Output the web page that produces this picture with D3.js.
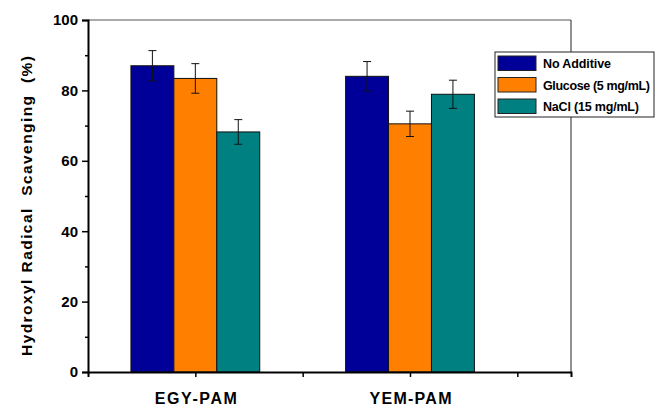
<!DOCTYPE html>
<html>
<head>
<meta charset="utf-8">
<script src="https://cdn.jsdelivr.net/npm/d3@7"></script>
<style>
  body { margin: 0; background: #fff; }
  text { font-family: Arial, "Liberation Sans", sans-serif; font-weight: bold; }
</style>
</head>
<body>
<svg id="chart"></svg>
<script>
// data
var groups = ["EGY-PAM", "YEM-PAM"]
var groupPos = [1, 3]
var series = ["No Additive", "Glucose (5 mg/mL)", "NaCl (15 mg/mL)"]
var colors = ["#000099", "#ff8000", "#008080"]
var noAdditive = [87.0, 84.0]
var glucose = [83.4, 70.5]
var nacl = [68.2, 78.9]
var errNoAdditive = [4.3, 4.2]
var errGlucose = [4.2, 3.6]
var errNacl = [3.5, 4.0]
var yTicks = [0, 20, 40, 60, 80, 100]

var values = [noAdditive, glucose, nacl]
var errors = [errNoAdditive, errGlucose, errNacl]

let svgWidth = 656
let svgHeight = 410
let margin = {top: 20, right: 85, bottom: 38, left: 88}
let width = svgWidth - margin.left - margin.right
let height = svgHeight - margin.top - margin.bottom

var svg = d3.select("#chart")
    .attr("width", svgWidth)
    .attr("height", svgHeight)

var chart = svg.append("g")
    .attr("transform", "translate(" + margin.left + "," + margin.top + ")")

var xScale = d3.scaleLinear().domain([0, 4.5]).range([0, width])
var yScale = d3.scaleLinear().domain([0, 100]).range([height, 0])
var barW = xScale(0.4) - xScale(0)

// flatten into bar records
var bars = []
groups.forEach(function(g, gi) {
    series.forEach(function(s, si) {
        bars.push({group: gi, s: si, value: values[si][gi], err: errors[si][gi]})
    })
})

function barX(d) {
    return xScale(groupPos[d.group]) + (d.s - 1.5) * barW
}

chart.selectAll("rect.bar").data(bars).enter()
    .append("rect")
    .attr("class", "bar")
    .attr("x", barX)
    .attr("width", barW)
    .attr("y", function(d) { return yScale(d.value) })
    .attr("height", function(d) { return height - yScale(d.value) })
    .attr("fill", function(d) { return colors[d.s] })
    .attr("stroke", "#111")
    .attr("stroke-width", 1)

// error bars
var eb = chart.selectAll("g.err").data(bars).enter()
    .append("g")
    .attr("class", "err")
    .attr("stroke", "#111")
    .attr("stroke-width", 1)
eb.append("line")
    .attr("x1", function(d) { return barX(d) + barW / 2 })
    .attr("x2", function(d) { return barX(d) + barW / 2 })
    .attr("y1", function(d) { return yScale(d.value + d.err) })
    .attr("y2", function(d) { return yScale(d.value - d.err) })
eb.selectAll("line.cap").data(function(d) { return [[d, d.value + d.err], [d, d.value - d.err]] }).enter()
    .append("line")
    .attr("class", "cap")
    .attr("x1", function(p) { return barX(p[0]) + barW / 2 - 4 })
    .attr("x2", function(p) { return barX(p[0]) + barW / 2 + 4 })
    .attr("y1", function(p) { return yScale(p[1]) })
    .attr("y2", function(p) { return yScale(p[1]) })

// frame: top and right thin
chart.append("line").attr("x1", 0).attr("x2", width).attr("y1", 0).attr("y2", 0)
    .attr("stroke", "#555").attr("stroke-width", 1)
chart.append("line").attr("x1", width).attr("x2", width).attr("y1", 0).attr("y2", height)
    .attr("stroke", "#222").attr("stroke-width", 1)

// y axis
var yAxis = d3.axisLeft(yScale).tickValues(yTicks).tickSize(6).tickPadding(4)
var yg = chart.append("g").attr("class", "y axis").call(yAxis)
var yMinor = d3.axisLeft(yScale).tickValues([10, 30, 50, 70, 90]).tickSize(3).tickFormat("")
chart.append("g").call(yMinor).call(function(g) { g.select(".domain").remove() })
    .selectAll("line").attr("stroke-width", 1.5)

// x axis
var xAxis = d3.axisBottom(xScale).tickValues([1, 2, 3, 4]).tickSize(5).tickPadding(16)
    .tickFormat(function(d) { var i = groupPos.indexOf(d); return i >= 0 ? groups[i] : "" })
var xg = chart.append("g").attr("class", "x axis")
    .attr("transform", "translate(0," + height + ")")
    .call(xAxis)

svg.selectAll(".axis .domain").attr("stroke", "#000").attr("stroke-width", 2)
svg.selectAll(".axis .tick line").attr("stroke-width", 1.5)
yg.selectAll("text").attr("font-size", 15).attr("fill", "#000")
xg.selectAll("text").attr("font-size", 16).attr("fill", "#000")
    .filter(function() { return this.textContent !== "" })
    .attr("textLength", 82).attr("lengthAdjust", "spacing")

// y label
svg.append("text")
    .attr("transform", "translate(32," + 206 + ") rotate(-90)")
    .attr("text-anchor", "middle")
    .attr("font-size", 15.5)
    .attr("textLength", 300)
    .attr("lengthAdjust", "spacing")
    .style("white-space", "pre")
    .text("Hydroxyl Radical  Scavenging  (%)")

// legend
var legendLen = [68, 107, 96]
var legend = svg.append("g").attr("transform", "translate(495,52)")
legend.append("rect")
    .attr("width", 159).attr("height", 65)
    .attr("fill", "#fff").attr("stroke", "#222").attr("stroke-width", 1)
var rows = legend.selectAll("g.row").data(series).enter()
    .append("g")
    .attr("transform", function(d, i) { return "translate(3," + (4 + i * 21.5) + ")" })
rows.append("rect")
    .attr("width", 38).attr("height", 14.5)
    .attr("fill", function(d, i) { return colors[i] })
    .attr("stroke", "#222")
rows.append("text")
    .attr("x", 45).attr("y", 12)
    .attr("font-size", 12.5)
    .text(function(d) { return d })
    .each(function(d, i) {
        // stretch letter spacing so the text fills its measured width
        var w = this.getComputedTextLength()
        var n = d.length - 1
        d3.select(this).attr("letter-spacing", ((legendLen[i] - w) / n).toFixed(2))
    })
</script>
</body>
</html>
